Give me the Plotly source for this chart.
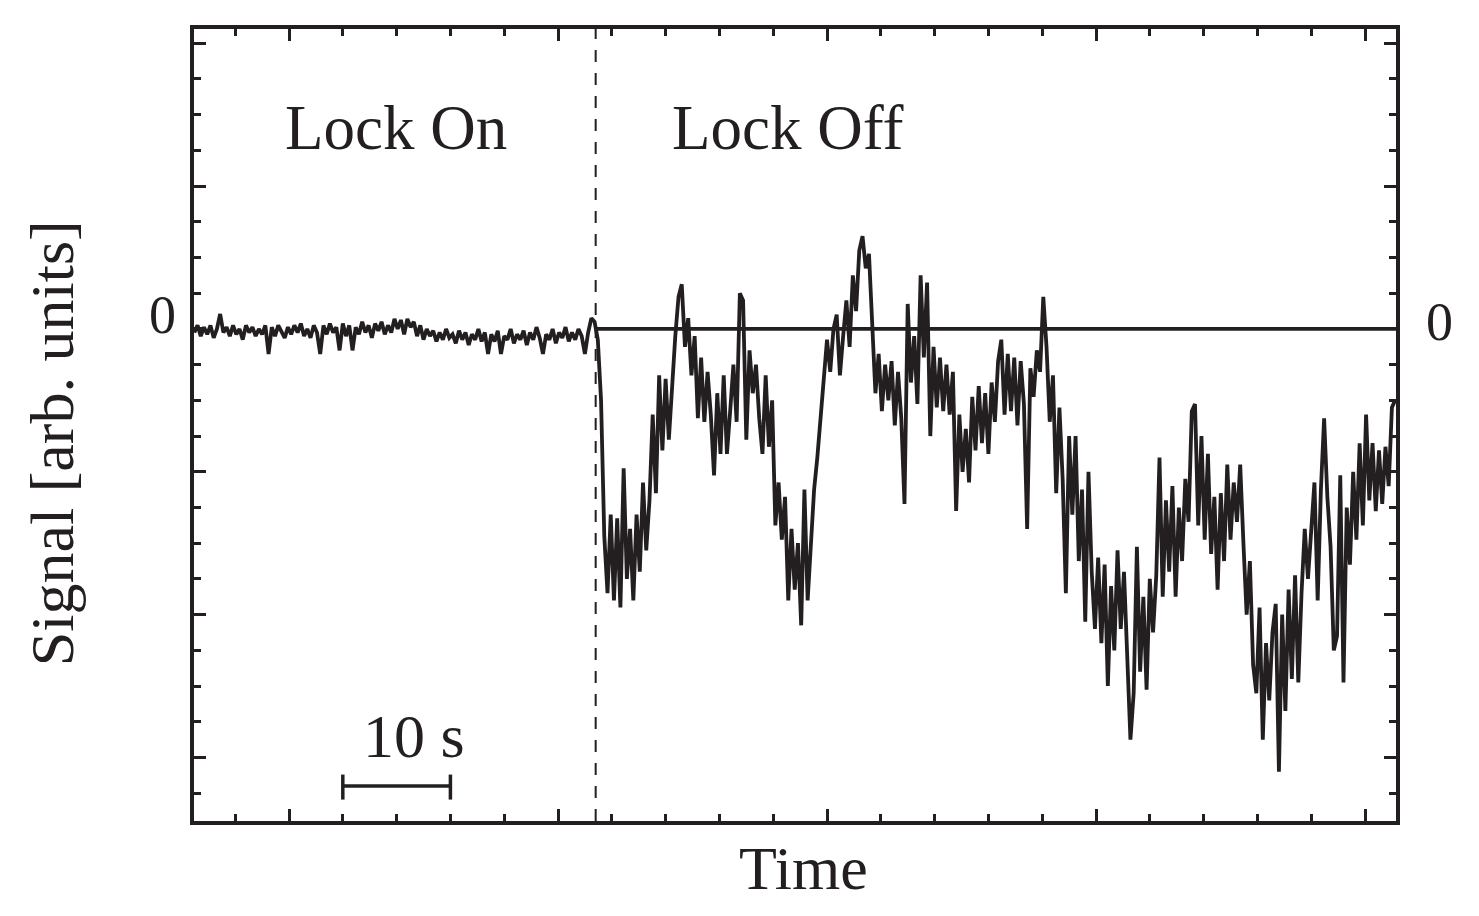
import numpy as np
import plotly.graph_objects as go

# sampling of the recorded trace (seconds)
t_start = -8.8
dt = 0.3
lock_off_time = 28.5

# signal while the lock is on (arb. units, 1 unit = one minor tick)
lock_on = [
    -0.1, 0.1, -0.2, 0.05, -0.15, 0.1, -0.25, 0.0, 0.42, -0.1,
    0.05, -0.2, 0.1, -0.15, 0.0, -0.3, 0.1, -0.1, 0.05, -0.2,
    0.0, -0.15, 0.1, -0.7, 0.05, -0.2, 0.1, -0.1, -0.25, 0.05,
    -0.15, 0.1, -0.1, 0.15, -0.2, 0.0, -0.25, 0.1, -0.1, -0.7,
    0.1, -0.15, 0.15, -0.1, 0.05, -0.6, 0.15, -0.2, 0.1, -0.6,
    0.05, -0.15, 0.2, -0.1, 0.1, -0.25, 0.15, -0.05, 0.2, -0.15,
    0.1, -0.1, 0.28, 0.0, 0.25, -0.15, 0.28, 0.05, 0.2, -0.2,
    0.1, -0.3, 0.0, -0.2, -0.05, -0.35, -0.1, -0.3, 0.0, -0.25,
    -0.15, -0.4, -0.05, -0.3, -0.1, -0.45, -0.15, -0.3, 0.0, -0.35,
    -0.1, -0.7, -0.15, -0.35, -0.05, -0.7, -0.2, -0.3, 0.0, -0.4,
    -0.15, -0.3, -0.05, -0.45, -0.1, -0.3, 0.05, -0.25, -0.7, -0.15,
    -0.3, 0.0, -0.4, -0.1, -0.25, 0.05, -0.35, -0.1, -0.3, 0.0,
    -0.2, -0.7, -0.1, 0.3,
]

# signal after the lock is switched off
lock_off = [
    0.2, -0.3, -2.0, -5.8, -7.4, -5.2, -7.6, -5.3, -7.8, -3.9,
    -7.0, -5.6, -7.6, -5.2, -6.8, -4.3, -6.2, -4.8, -2.4, -4.6,
    -1.3, -3.4, -1.4, -3.1, -1.5, -0.2, 0.9, 1.25, -0.5, 0.3,
    -1.3, -0.2, -2.5, -0.8, -2.6, -1.2, -2.4, -4.1, -1.8, -3.5,
    -1.3, -3.5, -2.3, -1.0, -2.6, 1.0, 0.8, -3.1, -0.6, -1.8,
    -1.0, -2.5, -3.5, -1.3, -3.3, -2.0, -5.5, -4.3, -5.9, -4.7,
    -7.6, -5.6, -7.3, -6.0, -8.3, -4.5, -7.6, -5.8, -4.5, -3.6,
    -2.5, -1.5, -0.3, -1.2, 0.0, 0.4, -1.3, -0.2, 0.8, -0.5,
    1.5, 0.5, 2.2, 2.6, 1.7, 2.1, 0.2, -1.8, -0.7, -2.3,
    -1.0, -2.0, -0.9, -2.7, -1.2, -2.5, -4.9, 0.7, -1.5, -0.2,
    -2.1, 1.5, -0.8, 1.3, -3.0, -0.5, -2.2, -0.8, -2.3, -1.0,
    -2.4, -1.2, -5.1, -2.4, -4.0, -2.8, -4.3, -1.9, -3.4, -1.6,
    -3.2, -1.8, -3.5, -1.5, -2.6, -0.9, -0.3, -2.4, -0.7, -2.3,
    -0.8, -2.7, -0.9, -2.1, -5.6, -1.1, -1.9, -0.6, -1.2, 0.9,
    -0.5, -2.6, -1.3, -4.6, -2.2, -4.2, -7.4, -3.0, -5.2, -3.0,
    -6.5, -4.5, -8.2, -4.0, -6.8, -8.4, -6.4, -8.8, -6.6, -10.0,
    -7.2, -9.0, -6.2, -8.4, -6.8, -9.0, -11.5, -10.2, -6.1, -9.6,
    -7.5, -10.1, -7.0, -8.5, -6.9, -3.6, -7.5, -4.8, -6.8, -4.4,
    -7.5, -5.0, -6.5, -4.2, -5.4, -2.3, -2.1, -5.5, -3.0, -5.9,
    -3.5, -6.3, -4.7, -7.3, -4.6, -6.5, -3.8, -5.9, -4.3, -5.4,
    -3.8, -6.0, -8.0, -6.5, -9.4, -10.2, -7.8, -11.5, -8.8, -10.4,
    -8.5, -7.7, -12.4, -8.0, -10.7, -7.3, -9.8, -6.9, -9.9, -7.4,
    -5.6, -7.0, -5.6, -4.3, -7.6, -4.5, -2.5, -4.7, -6.1, -9.0,
    -8.6, -4.1, -9.9, -5.0, -6.6, -4.0, -5.9, -3.2, -5.5, -2.4,
    -4.8, -3.2, -5.1, -3.4, -4.9, -3.3, -4.4, -2.2, -2.0,
]

signal = lock_on + lock_off
time = t_start + dt * np.arange(len(signal))

x_range = [-8.83, 102.88]
y_range = [-13.78, 8.40]

# 10 s scale bar
bar_start = 5
bar_len = 10
bar_y = -12.8

ink = '#231f20'
serif = 'Liberation Serif'

fig = go.Figure()
fig.add_trace(go.Scatter(x=time, y=signal, mode='lines',
                         line=dict(color=ink, width=3.8), showlegend=False))

# zero line after the lock is released
fig.add_shape(type='line', xref='x', yref='y', x0=lock_off_time, x1=x_range[1],
              y0=0, y1=0, line=dict(color=ink, width=3.8))
# lock switch-off marker
fig.add_shape(type='line', xref='x', yref='paper', x0=lock_off_time, x1=lock_off_time,
              y0=0, y1=1, line=dict(color=ink, width=2, dash='12px,11px'))
# scale bar
fig.add_shape(type='line', xref='x', yref='y', x0=bar_start, x1=bar_start + bar_len,
              y0=bar_y, y1=bar_y, line=dict(color=ink, width=3.5))
for xe in [bar_start, bar_start + bar_len]:
    fig.add_shape(type='line', xref='x', yref='y', x0=xe, x1=xe,
                  y0=bar_y - 0.38, y1=bar_y + 0.32, line=dict(color=ink, width=3.5))

big = dict(family=serif, size=63, color=ink)
fig.add_annotation(x=9.9, y=5.62, text='Lock On', showarrow=False, font=big)
fig.add_annotation(x=46.4, y=5.62, text='Lock Off', showarrow=False, font=big)
fig.add_annotation(x=11.6, y=-11.4, text='10 s', showarrow=False,
                   font=dict(family=serif, size=62, color=ink))

zero_font = dict(family=serif, size=54, color=ink)
fig.add_annotation(xref='paper', x=0, y=0, text='0', showarrow=False, font=zero_font,
                   xanchor='right', xshift=-16, yshift=14)
fig.add_annotation(xref='paper', x=1, y=0, text='0', showarrow=False, font=zero_font,
                   xanchor='left', xshift=28, yshift=7)

title_font = dict(family=serif, size=62, color=ink)
fig.add_annotation(xref='paper', yref='paper', x=-0.148, y=0.477, text='Signal [arb. units]',
                   textangle=-90, showarrow=False, font=title_font)
fig.add_annotation(xref='paper', yref='paper', x=0.507, y=-0.105, text='Time',
                   showarrow=False, font=title_font)

axis_style = dict(showline=True, linecolor=ink, linewidth=3.8, mirror='ticks',
                  ticks='inside', tickcolor=ink, tickwidth=3, ticklen=12,
                  showgrid=False, zeroline=False, showticklabels=False)

fig.update_xaxes(range=x_range, tick0=0, dtick=25,
                 minor=dict(ticks='inside', tick0=0, dtick=5, ticklen=7,
                            tickwidth=3, tickcolor=ink, showgrid=False),
                 **axis_style)
fig.update_yaxes(range=y_range, tick0=0, dtick=4,
                 minor=dict(ticks='inside', tick0=0, dtick=1, ticklen=7,
                            tickwidth=3, tickcolor=ink, showgrid=False),
                 **axis_style)

# page body adds a small offset, so the margins are trimmed to keep the frame in place
fig.update_layout(width=1479, height=916,
                  margin=dict(l=186, r=91, t=21, b=103),
                  plot_bgcolor='white', paper_bgcolor='white')

fig.write_html("out.html")
